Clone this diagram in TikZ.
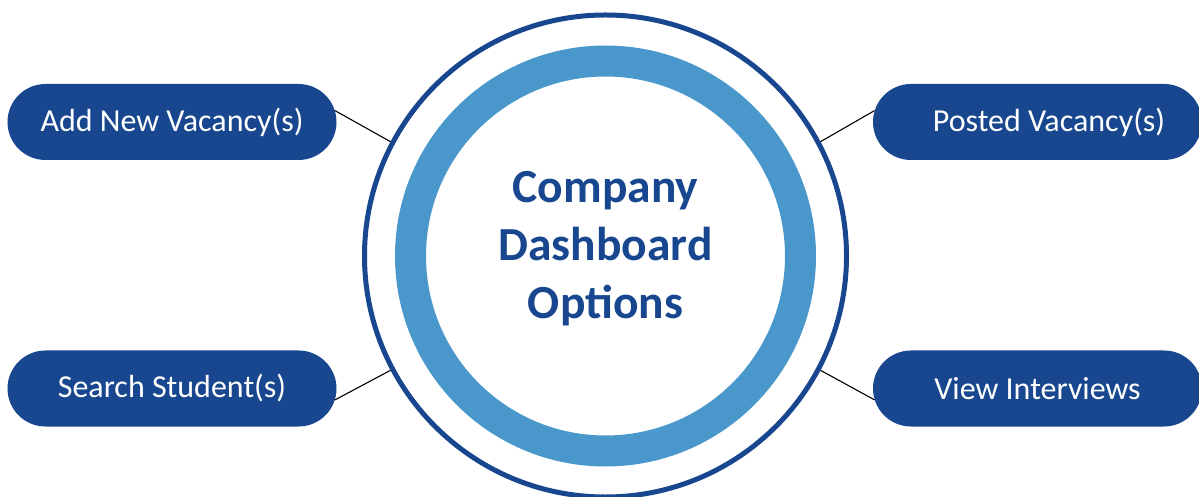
\documentclass[tikz,border=0pt]{standalone}
\usepackage{fontspec}
\setmainfont{Carlito}
\usetikzlibrary{shapes.misc}
\definecolor{navy}{HTML}{18478F}
\definecolor{ringblue}{HTML}{4A97CC}
\begin{document}
\begin{tikzpicture}[x=1bp,y=-1bp,
  pill/.style={rounded rectangle, fill=navy, text=white,
    minimum width=329bp, minimum height=76bp, inner sep=0pt,
    font=\fontsize{32bp}{38bp}\selectfont},
  link/.style={draw=black, line width=1.1bp}]
  \useasboundingbox (0,0) rectangle (1199,497);

  % central hub: outer rim, thick light ring, title
  \node[circle, draw=navy, line width=5bp, minimum size=482bp, inner sep=0pt] (hub) at (605.5,256) {};
  \draw[ringblue, line width=31bp] (605.5,256) circle[radius=195];
  \node[text=navy, align=center, font=\fontsize{47.5bp}{58bp}\selectfont\bfseries] (title) at (605.5,249)
    {Company\\Dashboard\\Options};

  % option pills
  \node[pill] (addnew) at (172,122) {Add New Vacancy(s)};
  \node[pill] (posted) at (1037.5,122) {\hspace*{23bp}Posted Vacancy(s)};
  \node[pill] (search) at (172,388.5) {Search Student(s)};
  \node[pill] (interviews) at (1037.5,388.5) {View Interviews};

  % connectors
  \draw[link] (addnew.4) -- (hub.152);
  \draw[link] (posted.176) -- (hub.28);
  \draw[link] (search.-4) -- (hub.-152);
  \draw[link] (interviews.184) -- (hub.-28);
\end{tikzpicture}
\end{document}
